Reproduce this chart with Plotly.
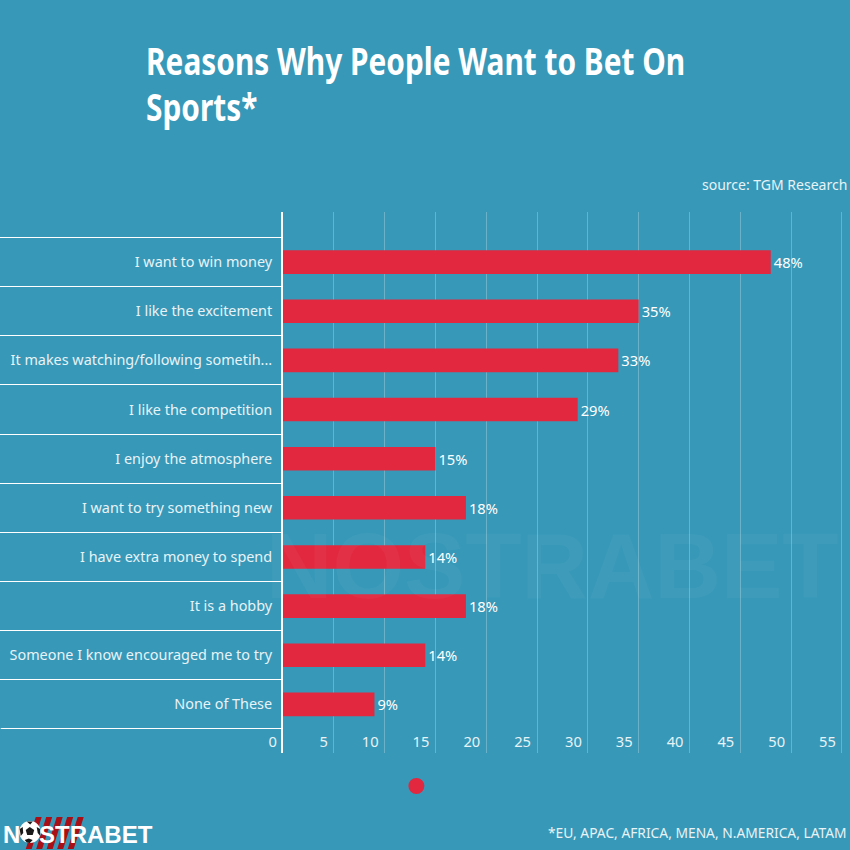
import plotly.graph_objects as go

# Chart data
reasons = ["I want to win money", "I like the excitement", "It makes watching/following sometih...",
           "I like the competition", "I enjoy the atmosphere", "I want to try something new",
           "I have extra money to spend", "It is a hobby", "Someone I know encouraged me to try",
           "None of These"]
shares = [48, 35, 33, 29, 15, 18, 14, 18, 14, 9]
x_ticks = [0, 5, 10, 15, 20, 25, 30, 35, 40, 45, 50, 55]
title_lines = ["Reasons Why People Want to Bet On", "Sports*"]

BG = "#3798b8"
RED = "#e1283f"
LABEL = "#e8f3f7"
W = 850
PLOT_L, PLOT_T, PLOT_B = 282.5, 212, 753


# pixel position in the page -> paper fraction
def px(x):
    return (x - PLOT_L) / (W - PLOT_L)


def py(y):
    return (PLOT_B - y) / (PLOT_B - PLOT_T)


def poly(points, color):
    path = "M " + " L ".join(f"{px(x):.5f} {py(y):.5f}" for x, y in points) + " Z"
    return dict(type="path", xref="paper", yref="paper", path=path, fillcolor=color, line=dict(width=0))


fig = go.Figure()

fig.add_trace(go.Bar(
    y=reasons, x=shares, orientation="h",
    marker=dict(color=RED, line=dict(width=0)),
    text=[f"{v}%" for v in shares], textposition="outside",
    textfont=dict(family="Noto Sans", size=14.7, color="white"),
    cliponaxis=False, showlegend=False, hoverinfo="skip",
))

# same categories on a second axis, only so its ticks can draw the row lines
fig.add_trace(go.Scatter(
    y=reasons, x=shares, yaxis="y2", mode="markers",
    marker=dict(opacity=0), showlegend=False, hoverinfo="skip",
))

y_range = [9.5 + 24 / 49, -0.5 - 25.5 / 49]

# logo: stripes, then the ball that stands in for the O
logo_shapes = [poly([(35 + i * 10.5, 817), (41 + i * 10.5, 817), (31 + i * 10.5, 849), (25 + i * 10.5, 849)], "#a80f16")
               for i in range(5)]
logo_shapes.append(dict(type="circle", xref="paper", yref="paper", x0=px(18.5), x1=px(40), y0=py(821), y1=py(843),
                        fillcolor="white", line=dict(width=0)))
logo_shapes += [
    poly([(29, 827), (33.5, 830), (32, 835), (26.5, 835), (25, 830)], "#1a1a1a"),
    poly([(26, 821.5), (32, 821.5), (29.5, 824.5)], "#1a1a1a"),
    poly([(19, 829), (22, 827), (22.5, 833), (20, 836)], "#1a1a1a"),
    poly([(36, 827), (39.5, 829), (39.5, 836), (37, 833)], "#1a1a1a"),
    poly([(24, 840), (28, 838.5), (32, 840), (29, 843), (26, 842.5)], "#1a1a1a"),
]

fig.update_layout(
    width=W, height=W,
    margin=dict(l=PLOT_L, r=0, t=PLOT_T, b=W - PLOT_B, autoexpand=False),
    paper_bgcolor=BG, plot_bgcolor=BG,
    bargap=0.52, showlegend=False,
    font=dict(family="Noto Sans", color=LABEL, size=14),
    xaxis=dict(
        range=[0, 55.8], tickvals=x_ticks, ticks="",
        ticklabelposition="inside left", ticklabeloverflow="allow",
        ticklabelshift=-6, ticklabelstandoff=-3,
        showgrid=True, gridcolor="rgba(255,255,255,0.25)", gridwidth=1,
        zeroline=False, showline=False,
        tickfont=dict(family="Noto Sans", size=14.7, color=LABEL),
    ),
    yaxis=dict(
        type="category", categoryorder="array", categoryarray=reasons, range=y_range,
        ticks="", ticklen=0, showgrid=False, showline=True, linecolor="white", linewidth=2,
        zeroline=False, ticklabelstandoff=6, automargin=False,
        tickfont=dict(family="Noto Sans", size=14.4, color=LABEL),
    ),
    yaxis2=dict(
        type="category", categoryorder="array", categoryarray=reasons, range=y_range,
        overlaying="y", side="left", anchor="x", showticklabels=False, showgrid=False,
        ticks="outside", tickson="boundaries", ticklen=PLOT_L, tickcolor="white", tickwidth=1,
        showline=False, zeroline=False,
    ),
    annotations=[
        dict(text=f"<b>{title_lines[0]}</b>", xref="paper", yref="paper", x=px(143), y=py(60.5),
             xanchor="left", yanchor="middle", showarrow=False,
             font=dict(family="Noto Sans", size=38, color="white")),
        dict(text=f"<b>{title_lines[1]}</b>", xref="paper", yref="paper", x=px(143), y=py(105.5),
             xanchor="left", yanchor="middle", showarrow=False,
             font=dict(family="Noto Sans", size=38, color="white")),
        dict(text="source: TGM Research", xref="paper", yref="paper", x=px(849), y=py(184.5),
             xanchor="right", yanchor="middle", showarrow=False, font=dict(size=14, color=LABEL)),
        dict(text="*EU, APAC, AFRICA, MENA, N.AMERICA, LATAM", xref="paper", yref="paper", x=px(849), y=py(832),
             xanchor="right", yanchor="middle", showarrow=False, font=dict(size=13.8, color=LABEL)),
        # watermark
        dict(text="<b>NOSTRABET</b>", xref="paper", yref="paper", x=px(552), y=py(566),
             xanchor="center", yanchor="middle", showarrow=False,
             font=dict(family="Liberation Sans", size=92, color="rgba(255,255,255,0.04)")),
        # logo text, the O is left transparent so the ball shows through
        dict(text='<b>N<span style="color:rgba(0,0,0,0)">O</span>STRABET</b>', xref="paper", yref="paper",
             x=px(0), y=py(834), xanchor="left", yanchor="middle", showarrow=False,
             font=dict(family="Liberation Sans", size=24, color="white")),
    ],
    shapes=logo_shapes + [
        # the row line below the last category, the boundary ticks stop one short
        dict(type="line", xref="paper", yref="paper", x0=px(0), x1=px(PLOT_L), y0=py(728.5), y1=py(728.5),
             line=dict(color="white", width=1)),
        dict(type="circle", xref="paper", yref="paper", x0=px(408), x1=px(424), y0=py(778), y1=py(794),
             fillcolor=RED, line=dict(width=0)),
    ],
)

# squeeze the title, the reference uses a narrow bold face that is not installed
squeeze = """
document.body.style.margin = '0';
document.querySelectorAll('.annotation-text').forEach(function (t) {
  if (t.style.fontSize === '38px') {
    t.style.transformBox = 'fill-box';
    t.style.transformOrigin = 'left center';
    t.style.transform = 'scaleX(0.785)';
  }
});
"""

fig.write_html("out.html", config=dict(displayModeBar=False), post_script=squeeze)
